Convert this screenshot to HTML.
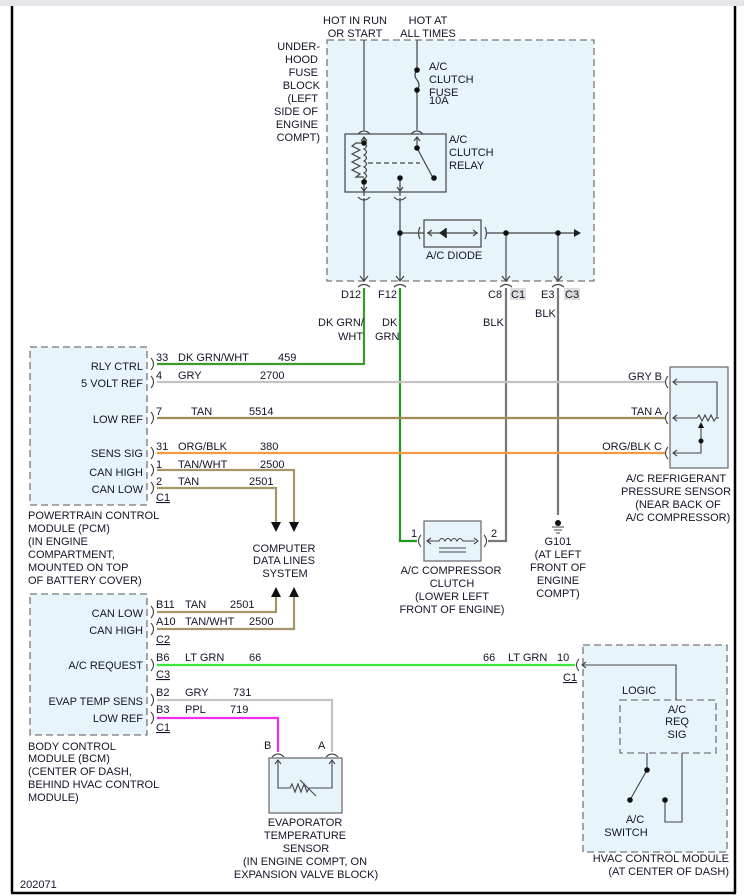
<!DOCTYPE html>
<html><head><meta charset="utf-8"><style>
html,body{margin:0;padding:0;background:#fff}
svg{display:block}
text{font-family:"Liberation Sans",sans-serif;font-size:11px;fill:#141428}
</style></head><body>
<svg width="744" height="896" viewBox="0 0 744 896" xmlns="http://www.w3.org/2000/svg">
<rect x="0" y="0" width="744" height="6" fill="#e6e6ea"/>
<line x1="12" y1="6" x2="12" y2="893" stroke="#000" stroke-width="2.5"/>
<line x1="735" y1="6" x2="735" y2="893" stroke="#000" stroke-width="2.5"/>
<line x1="11" y1="893" x2="736" y2="893" stroke="#000" stroke-width="2.5"/>

<!-- Fuse block -->
<rect x="327" y="40" width="267" height="241" fill="#e8f4fc" stroke="#777" stroke-width="1.3" stroke-dasharray="7,4"/>
<g text-anchor="end">
<text x="320" y="50">UNDER-</text><text x="318" y="63">HOOD</text><text x="318" y="76">FUSE</text><text x="320" y="89">BLOCK</text><text x="318" y="102">(LEFT</text><text x="318" y="115">SIDE OF</text><text x="318" y="128">ENGINE</text><text x="320" y="141">COMPT)</text>
</g>
<g text-anchor="middle"><text x="355" y="24">HOT IN RUN</text><text x="355" y="37">OR START</text><text x="428" y="24">HOT AT</text><text x="428" y="37">ALL TIMES</text></g>
<g stroke="#444" stroke-width="1.2" fill="none">
<line x1="364" y1="40" x2="364" y2="130"/>
<line x1="417" y1="40" x2="417" y2="70"/>
<path d="M417 70 q-4 5 0 10 q4 5 0 10"/>
<line x1="417" y1="90" x2="417" y2="130"/>
<path d="M358 134 q6 -6 12 0 M411 134 q6 -6 12 0"/>
<rect x="345" y="134" width="101" height="58" fill="#e8f4fc"/>
<path d="M361 141 l3 -4 l3 4 M414 141 l3 -4 l3 4"/>
<line x1="364" y1="138" x2="364" y2="143"/>
<line x1="417" y1="138" x2="417" y2="148"/>
<path d="M364 143 h-8 l-4 3 l8 4 l-8 4 l8 4 l-8 4 l8 4 l-8 4 l8 4 l-4 3 h8"/>
<path d="M364 143 q5 3 0 6 q5 3 0 6 q5 3 0 6 q5 3 0 6 q5 3 0 6 q5 3 0 6 q5 3 0 4"/>
<line x1="368" y1="163" x2="420" y2="163" stroke-dasharray="5,3"/>
<line x1="417" y1="148" x2="432" y2="176"/>
<line x1="364" y1="182" x2="364" y2="196"/><path d="M361 187 l3 4 l3 -4"/>
<line x1="400" y1="178" x2="400" y2="196"/><path d="M397 187 l3 4 l3 -4"/>
<path d="M358 197 q6 6 12 0 M394 197 q6 6 12 0"/>
<line x1="364" y1="198" x2="364" y2="281"/>
<line x1="400" y1="198" x2="400" y2="281"/>
<line x1="400" y1="233" x2="424" y2="233"/>
<path d="M420 227 q-3 6 0 12 M485 227 q3 6 0 12"/>
<rect x="424" y="220" width="57" height="27" fill="#e8f4fc"/>
<line x1="427" y1="233" x2="478" y2="233"/>
<path d="M432 230 l-4 3 l4 3 M473 230 l4 3 l-4 3"/>
<line x1="487" y1="233" x2="576" y2="233"/>
<line x1="506" y1="233" x2="506" y2="281"/>
<line x1="558" y1="233" x2="558" y2="281"/>
<path d="M360 276 l4 5 l4 -5 M396 276 l4 5 l4 -5 M502 276 l4 5 l4 -5 M554 276 l4 5 l4 -5"/>
<path d="M358 287 q6 -5 12 0 M394 287 q6 -5 12 0 M500 287 q6 -5 12 0 M552 287 q6 -5 12 0"/>
</g>
<path d="M446 228 v10 l-7 -5 z" fill="#222"/><line x1="446" y1="228" x2="446" y2="238" stroke="#222" stroke-width="1.5"/>
<path d="M574 229 l7 4 l-7 4 z" fill="#222"/>
<g fill="#111"><circle cx="417" cy="70" r="2.8"/><circle cx="417" cy="90" r="2.8"/><circle cx="364" cy="143" r="2.8"/><circle cx="364" cy="182" r="2.8"/><circle cx="417" cy="148" r="2.8"/><circle cx="434" cy="178" r="2.8"/><circle cx="400" cy="178" r="2.8"/><circle cx="400" cy="233" r="2.8"/><circle cx="506" cy="233" r="2.8"/><circle cx="558" cy="233" r="2.8"/></g>
<text x="429" y="70">A/C</text><text x="429" y="83">CLUTCH</text><text x="429" y="96">FUSE</text><text x="429" y="104">10A</text>
<text x="449" y="143">A/C</text><text x="449" y="156">CLUTCH</text><text x="449" y="169">RELAY</text>
<text x="426" y="259">A/C DIODE</text>
<text x="341" y="298">D12</text><text x="378" y="298">F12</text><text x="488" y="298">C8</text>
<rect x="510" y="288" width="16" height="12" fill="#ddd"/><text x="511" y="298">C1</text>
<text x="541" y="298">E3</text><rect x="564" y="288" width="16" height="12" fill="#ddd"/><text x="565" y="298">C3</text>

<!-- Wires -->
<g fill="none" stroke-width="2.2">
<polyline points="364,288 364,364 157,364" stroke="#3a9a2a"/>
<polyline points="400,288 400,541 417,541" stroke="#1f9a1f"/>
<polyline points="506,288 506,541 488,541" stroke="#777"/>
<line x1="558" y1="288" x2="558" y2="515" stroke="#777"/>
<line x1="157" y1="382" x2="665" y2="382" stroke="#c4c4c4"/>
<line x1="157" y1="418" x2="665" y2="418" stroke="#a08a5a"/>
<line x1="157" y1="453" x2="665" y2="453" stroke="#f49a45"/>
<polyline points="157,470 294,470 294,522" stroke="#a8946a"/>
<polyline points="157,488 276,488 276,522" stroke="#a8946a"/>
<polyline points="157,612 276,612 276,595" stroke="#a8946a"/>
<polyline points="157,629 294,629 294,595" stroke="#a8946a"/>
<line x1="157" y1="665" x2="575" y2="665" stroke="#3ce63c"/>
<polyline points="157,700 332,700 332,752" stroke="#c4c4c4"/>
<polyline points="157,718 278,718 278,752" stroke="#ee30ee"/>
</g>
<g fill="#111"><path d="M271 522 h10 l-5 10 z M289 522 h10 l-5 10 z M271 597 h10 l-5 -10 z M289 597 h10 l-5 -10 z"/></g>
<g text-anchor="middle"><text x="284" y="552">COMPUTER</text><text x="284" y="564">DATA LINES</text><text x="285" y="577">SYSTEM</text></g>
<text x="318" y="326">DK GRN/</text><text x="338" y="340">WHT</text>
<text x="382" y="326">DK</text><text x="375" y="340">GRN</text>
<text x="483" y="326">BLK</text><text x="535" y="317">BLK</text>

<!-- PCM -->
<rect x="30" y="347" width="117" height="158" fill="#e8f4fc" stroke="#777" stroke-width="1.3" stroke-dasharray="7,4"/>
<g text-anchor="end"><text x="143" y="370">RLY CTRL</text><text x="143" y="387">5 VOLT REF</text><text x="143" y="423">LOW REF</text><text x="143" y="457">SENS SIG</text><text x="143" y="476">CAN HIGH</text><text x="143" y="493">CAN LOW</text></g>
<g fill="none" stroke="#444" stroke-width="1.1"><path d="M151 358 q5 6 0 12 M151 376 q5 6 0 12 M151 412 q5 6 0 12 M151 447 q5 6 0 12 M151 464 q5 6 0 12 M151 482 q5 6 0 12"/></g>
<text x="156" y="361">33</text><text x="156" y="379">4</text><text x="156" y="415">7</text><text x="156" y="450">31</text><text x="156" y="468">1</text><text x="156" y="485">2</text>
<text x="156" y="501" text-decoration="underline">C1</text>
<text x="178" y="361">DK GRN/WHT</text><text x="278" y="361">459</text>
<text x="178" y="379">GRY</text><text x="260" y="379">2700</text>
<text x="191" y="415">TAN</text><text x="249" y="415">5514</text>
<text x="178" y="450">ORG/BLK</text><text x="260" y="450">380</text>
<text x="178" y="468">TAN/WHT</text><text x="260" y="468">2500</text>
<text x="178" y="485">TAN</text><text x="249" y="485">2501</text>
<g><text x="28" y="519">POWERTRAIN CONTROL</text><text x="28" y="532">MODULE (PCM)</text><text x="28" y="545">(IN ENGINE</text><text x="28" y="558">COMPARTMENT,</text><text x="28" y="571">MOUNTED ON TOP</text><text x="28" y="584">OF BATTERY COVER)</text></g>

<!-- Pressure sensor -->
<rect x="670" y="367" width="58" height="101" fill="#e8f4fc" stroke="#666" stroke-width="1.2"/>
<g fill="none" stroke="#444" stroke-width="1.1">
<path d="M668 376 q-5 6 0 12 M668 412 q-5 6 0 12 M668 447 q-5 6 0 12"/>
<polyline points="673,382 717,382 717,418"/>
<path d="M677 379 l-4 3 l4 3 M677 415 l-4 3 l4 3 M677 450 l-4 3 l4 3"/>
<path d="M673 418 h24 l2 -3 l3 6 l3 -6 l3 6 l3 -6 l3 6 l2 -3 h3"/>
<polyline points="701,441 701,453 673,453"/>
<line x1="701" y1="441" x2="701" y2="427"/>
</g>
<path d="M698 428 l3 -6 l3 6 z" fill="#111"/><circle cx="701" cy="441" r="2.5" fill="#111"/>
<g text-anchor="end"><text x="662" y="380">GRY  B</text><text x="662" y="415">TAN  A</text><text x="662" y="450">ORG/BLK  C</text></g>
<g text-anchor="middle"><text x="676" y="482">A/C REFRIGERANT</text><text x="676" y="495">PRESSURE SENSOR</text><text x="678" y="508">(NEAR BACK OF</text><text x="678" y="521">A/C COMPRESSOR)</text></g>

<!-- Compressor clutch -->
<rect x="424" y="521" width="57" height="40" fill="#e8f4fc" stroke="#666" stroke-width="1.2"/>
<g fill="none" stroke="#444" stroke-width="1.1">
<path d="M421 535 q-5 6 0 12 M484 535 q5 6 0 12"/>
<path d="M427 541 h12 q3 -5 6 0 q3 -5 6 0 q3 -5 6 0 q3 -5 6 0 h12"/>
<path d="M431 538 l-4 3 l4 3 M474 538 l4 3 l-4 3"/>
<line x1="439" y1="548" x2="466" y2="548"/><line x1="439" y1="552" x2="466" y2="552"/>
</g>
<text x="411" y="537">1</text><text x="491" y="537">2</text>
<g text-anchor="middle"><text x="451" y="574">A/C COMPRESSOR</text><text x="452" y="587">CLUTCH</text><text x="452" y="600">(LOWER LEFT</text><text x="452" y="613">FRONT OF ENGINE)</text></g>
<!-- Ground -->
<circle cx="558" cy="523" r="3" fill="#111"/>
<g stroke="#444" stroke-width="1"><line x1="552" y1="527" x2="564" y2="527"/><line x1="554" y1="530" x2="562" y2="530"/><line x1="556" y1="533" x2="560" y2="533"/></g>
<g text-anchor="middle"><text x="558" y="545">G101</text><text x="558" y="558">(AT LEFT</text><text x="558" y="571">FRONT OF</text><text x="558" y="584">ENGINE</text><text x="558" y="597">COMPT)</text></g>

<!-- BCM -->
<rect x="30" y="594" width="117" height="141" fill="#e8f4fc" stroke="#777" stroke-width="1.3" stroke-dasharray="7,4"/>
<g text-anchor="end"><text x="143" y="617">CAN LOW</text><text x="143" y="634">CAN HIGH</text><text x="143" y="669">A/C REQUEST</text><text x="143" y="705">EVAP TEMP SENS</text><text x="143" y="722">LOW REF</text></g>
<g fill="none" stroke="#444" stroke-width="1.1"><path d="M151 606 q5 6 0 12 M151 623 q5 6 0 12 M151 659 q5 6 0 12 M151 694 q5 6 0 12 M151 712 q5 6 0 12"/></g>
<text x="156" y="608">B11</text><text x="156" y="625">A10</text><text x="156" y="643" text-decoration="underline">C2</text>
<text x="156" y="661">B6</text><text x="156" y="678" text-decoration="underline">C3</text>
<text x="156" y="696">B2</text><text x="156" y="713">B3</text><text x="156" y="731" text-decoration="underline">C1</text>
<text x="185" y="608">TAN</text><text x="230" y="608">2501</text>
<text x="185" y="625">TAN/WHT</text><text x="249" y="625">2500</text>
<text x="185" y="661">LT GRN</text><text x="249" y="661">66</text>
<text x="185" y="696">GRY</text><text x="233" y="696">731</text>
<text x="185" y="713">PPL</text><text x="230" y="713">719</text>
<text x="483" y="661">66</text><text x="508" y="661">LT GRN</text><text x="557" y="661">10</text>
<text x="563" y="681" text-decoration="underline">C1</text>
<g><text x="28" y="750">BODY CONTROL</text><text x="28" y="762">MODULE (BCM)</text><text x="28" y="775">(CENTER OF DASH,</text><text x="28" y="788">BEHIND HVAC CONTROL</text><text x="28" y="801">MODULE)</text></g>

<!-- Evap sensor -->
<rect x="269" y="758" width="73" height="55" fill="#e8f4fc" stroke="#666" stroke-width="1.2"/>
<g fill="none" stroke="#444" stroke-width="1.1">
<path d="M272 757 q6 -6 12 0 M326 757 q6 -6 12 0"/>
<path d="M275 764 l3 -4 l3 4 M329 764 l3 -4 l3 4"/>
<polyline points="278,760 278,788 290,788 292,784 295,792 298,784 301,792 304,784 307,792 309,788 332,788 332,760"/>
<line x1="300" y1="780" x2="316" y2="796"/>
</g>
<text x="264" y="749">B</text><text x="318" y="749">A</text>
<g text-anchor="middle"><text x="305" y="826">EVAPORATOR</text><text x="305" y="839">TEMPERATURE</text><text x="306" y="852">SENSOR</text><text x="305" y="865">(IN ENGINE COMPT, ON</text><text x="306" y="878">EXPANSION VALVE BLOCK)</text></g>

<!-- HVAC -->
<rect x="583" y="645" width="144" height="207" fill="#e8f4fc" stroke="#777" stroke-width="1.3" stroke-dasharray="7,4"/>
<rect x="620" y="700" width="96" height="53" fill="#e8f4fc" stroke="#777" stroke-width="1.3" stroke-dasharray="7,4"/>
<g fill="none" stroke="#444" stroke-width="1.1">
<path d="M579 659 q-5 6 0 12"/>
<polyline points="582,665 676,665 676,700"/>
<path d="M586 662 l-4 3 l4 3"/>
<polyline points="647,753 647,770 630,800"/>
<polyline points="682,753 682,822 665,822 665,800"/>
</g>
<g fill="#111"><circle cx="647" cy="770" r="2.8"/><circle cx="630" cy="800" r="2.8"/><circle cx="665" cy="800" r="2.8"/></g>
<text x="622" y="694">LOGIC</text>
<g text-anchor="middle"><text x="677" y="713">A/C</text><text x="677" y="725">REQ</text><text x="677" y="738">SIG</text><text x="635" y="823">A/C</text><text x="626" y="836">SWITCH</text></g>
<g text-anchor="end"><text x="729" y="862">HVAC CONTROL MODULE</text><text x="729" y="875">(AT CENTER OF DASH)</text></g>
<text x="20" y="888">202071</text>
</svg>
</body></html>
